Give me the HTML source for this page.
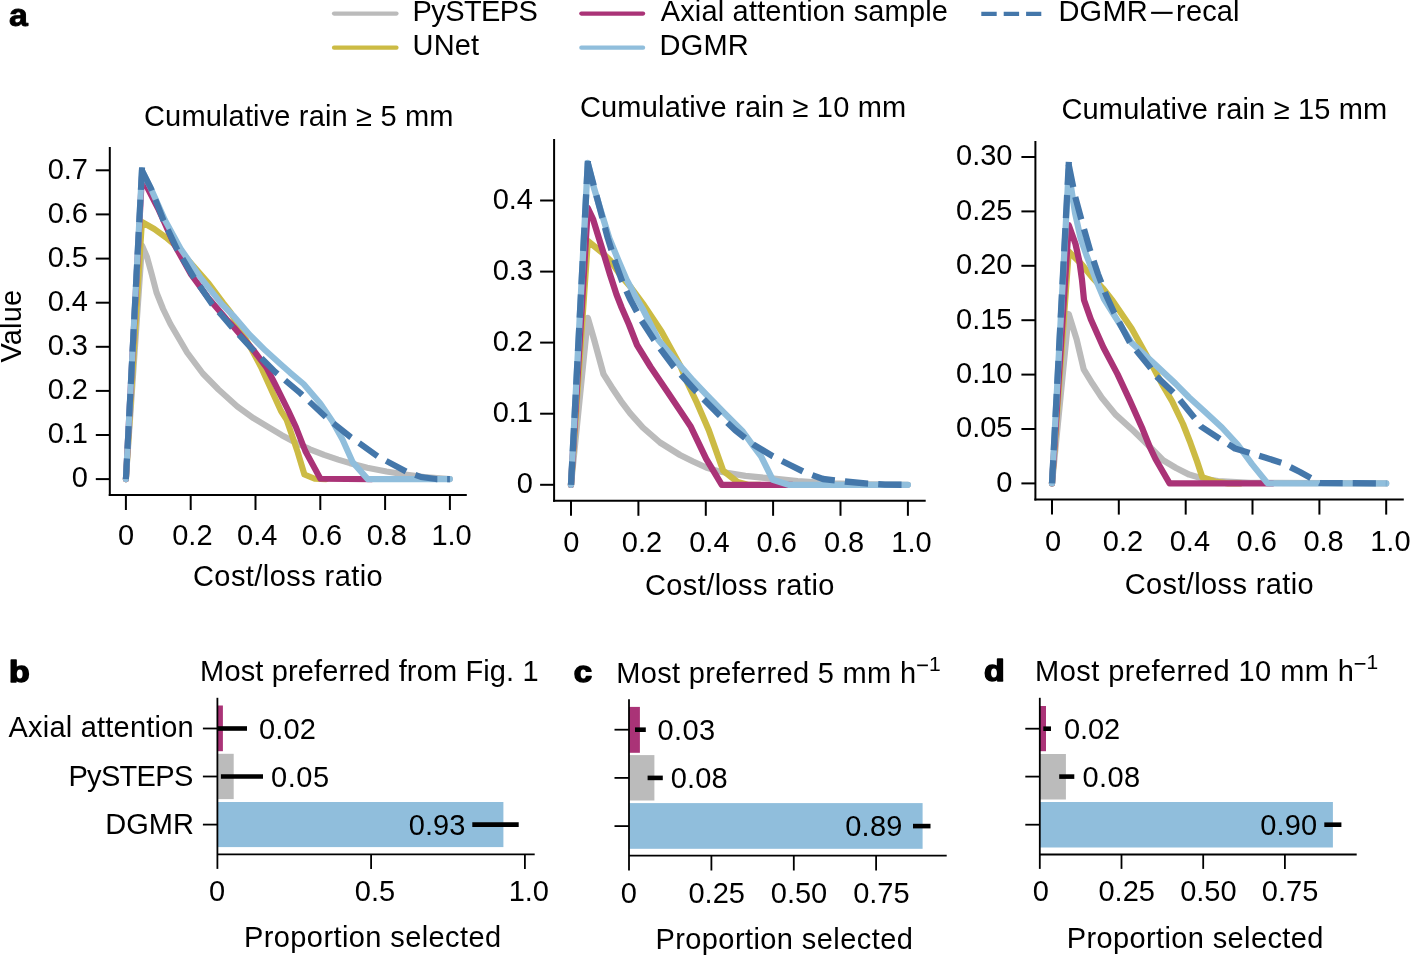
<!DOCTYPE html>
<html><head><meta charset="utf-8"><title>Figure</title>
<style>
html,body{margin:0;padding:0;background:#fff;}
svg{display:block;font-family:"Liberation Sans", sans-serif;will-change:transform;}
text{fill:#000;}
</style></head>
<body>
<svg width="1410" height="956" viewBox="0 0 1410 956">
<rect width="1410" height="956" fill="#fff"/>
<line x1="334" y1="13.6" x2="396.5" y2="13.6" stroke="#BBBBBB" stroke-width="4.2" stroke-linecap="round"/>
<line x1="334" y1="47.7" x2="396.5" y2="47.7" stroke="#CCBB44" stroke-width="4.2" stroke-linecap="round"/>
<line x1="581.3" y1="13.6" x2="643.1" y2="13.6" stroke="#AA3377" stroke-width="4.2" stroke-linecap="round"/>
<line x1="581.3" y1="47.7" x2="643.1" y2="47.7" stroke="#90BEDC" stroke-width="4.2" stroke-linecap="round"/>
<line x1="981.3" y1="13.8" x2="1041.3" y2="13.8" stroke="#4477AA" stroke-width="4.3" stroke-dasharray="15.4,7"/>
<rect x="1151.1" y="11.8" width="21.5" height="2.1" fill="#000"/>
<text x="0" y="0" font-size="32" font-weight="bold" stroke="#000" stroke-width="0.9" stroke-linejoin="round" transform="translate(9.10,26.40) scale(1.060,1)">a</text>
<text x="0" y="0" font-size="30" font-weight="bold" stroke="#000" stroke-width="1.5" stroke-linejoin="round" transform="translate(9.00,682.40) scale(1.130,1)">b</text>
<text x="0" y="0" font-size="30" font-weight="bold" stroke="#000" stroke-width="1.5" stroke-linejoin="round" transform="translate(573.80,682.40) scale(1.100,1)">c</text>
<text x="0" y="0" font-size="30" font-weight="bold" stroke="#000" stroke-width="1.5" stroke-linejoin="round" transform="translate(984.10,681.00) scale(1.130,1)">d</text>
<path d="M125.9,479.1 L142.0,245.5 L147.0,257.0 L151.4,273.0 L156.5,292.5 L163.1,309.0 L170.4,324.0 L179.2,339.0 L187.1,352.5 L202.8,373.5 L218.5,389.5 L237.3,406.5 L253.5,418.2 L267.6,426.7 L281.8,435.2 L295.9,442.7 L310.0,449.3 L324.1,454.9 L338.2,459.6 L350.0,463.2 L367.2,467.8 L386.5,471.5 L405.3,474.4 L424.1,477.0 L449.9,479.1" fill="none" stroke="#BBBBBB" stroke-width="6.1" stroke-linejoin="round" stroke-linecap="round"/>
<path d="M125.9,479.1 L141.9,222.0 L154.3,229.0 L166.0,237.5 L174.8,245.0 L181.0,252.0 L194.7,267.5 L208.9,283.8 L223.1,302.8 L230.2,311.8 L251.4,349.0 L261.0,367.0 L270.5,388.0 L281.0,411.0 L286.5,419.5 L291.2,433.0 L297.8,452.5 L304.4,474.5 L314.7,478.8 L326.0,479.1" fill="none" stroke="#CCBB44" stroke-width="6.1" stroke-linejoin="round" stroke-linecap="round"/>
<path d="M125.9,479.1 L141.9,177.0 L158.1,208.6 L174.3,244.5 L191.1,274.5 L208.9,298.7 L226.7,319.5 L234.1,327.5 L253.8,350.6 L266.8,368.0 L275.5,385.0 L288.0,410.0 L295.9,427.0 L305.3,451.0 L320.4,478.8 L372.0,479.1" fill="none" stroke="#AA3377" stroke-width="6.1" stroke-linejoin="round" stroke-linecap="round"/>
<path d="M125.9,479.1 L141.9,170.3 L150.9,188.5 L165.0,220.2 L180.6,248.7 L200.2,277.1 L221.5,303.9 L234.0,316.5 L249.8,334.9 L265.5,350.6 L281.2,364.7 L290.0,372.6 L303.6,384.0 L320.3,403.5 L332.5,421.5 L342.5,439.5 L352.6,462.1 L367.7,479.1 L449.9,479.1" fill="none" stroke="#90BEDC" stroke-width="6.1" stroke-linejoin="round" stroke-linecap="round"/>
<path d="M125.9,479.1 L142.07,167.00" fill="none" stroke="#4477AA" stroke-width="6.1" stroke-dasharray="22.60,9.80" stroke-dashoffset="2"/>
<path d="M141.9,170.3 L151.0,188.5 L163.4,220.2 L176.8,248.7 L193.6,277.1 L212.0,303.9 L222.0,315.6" fill="none" stroke="#4477AA" stroke-width="6.1" stroke-linejoin="round" stroke-linecap="butt" stroke-dasharray="22.60,9.80"/>
<path d="M222.00,315.60 L232.00,327.30 L250.00,346.70 L275.10,371.90 L300.20,393.00 L326.00,417.30 L350.50,437.00 L378.00,456.50 L406.20,471.50 L421.00,477.00 L436.00,479.10 L449.90,479.10" fill="none" stroke="#4477AA" stroke-width="6.1" stroke-linejoin="round" stroke-linecap="butt" stroke-dasharray="22.60,9.80" stroke-dashoffset="6.78"/>
<line x1="109.8" y1="147.0" x2="109.8" y2="496.0" stroke="#000" stroke-width="2" stroke-linecap="butt"/>
<line x1="108.8" y1="495.0" x2="466.8" y2="495.0" stroke="#000" stroke-width="2" stroke-linecap="butt"/>
<line x1="95.8" y1="479.1" x2="109.8" y2="479.1" stroke="#000" stroke-width="2" stroke-linecap="butt"/>
<text x="88.0" y="487.4" font-size="29" text-anchor="end">0</text>
<line x1="95.8" y1="435.0" x2="109.8" y2="435.0" stroke="#000" stroke-width="2" stroke-linecap="butt"/>
<text x="88.0" y="443.3" font-size="29" text-anchor="end">0.1</text>
<line x1="95.8" y1="390.9" x2="109.8" y2="390.9" stroke="#000" stroke-width="2" stroke-linecap="butt"/>
<text x="88.0" y="399.2" font-size="29" text-anchor="end">0.2</text>
<line x1="95.8" y1="346.8" x2="109.8" y2="346.8" stroke="#000" stroke-width="2" stroke-linecap="butt"/>
<text x="88.0" y="355.1" font-size="29" text-anchor="end">0.3</text>
<line x1="95.8" y1="302.7" x2="109.8" y2="302.7" stroke="#000" stroke-width="2" stroke-linecap="butt"/>
<text x="88.0" y="311.0" font-size="29" text-anchor="end">0.4</text>
<line x1="95.8" y1="258.6" x2="109.8" y2="258.6" stroke="#000" stroke-width="2" stroke-linecap="butt"/>
<text x="88.0" y="266.9" font-size="29" text-anchor="end">0.5</text>
<line x1="95.8" y1="214.4" x2="109.8" y2="214.4" stroke="#000" stroke-width="2" stroke-linecap="butt"/>
<text x="88.0" y="222.7" font-size="29" text-anchor="end">0.6</text>
<line x1="95.8" y1="170.3" x2="109.8" y2="170.3" stroke="#000" stroke-width="2" stroke-linecap="butt"/>
<text x="88.0" y="178.6" font-size="29" text-anchor="end">0.7</text>
<line x1="125.9" y1="495.0" x2="125.9" y2="510.0" stroke="#000" stroke-width="2" stroke-linecap="butt"/>
<text x="126.0" y="545.1" font-size="29" text-anchor="middle">0</text>
<line x1="190.7" y1="495.0" x2="190.7" y2="510.0" stroke="#000" stroke-width="2" stroke-linecap="butt"/>
<text x="192.4" y="545.1" font-size="29" text-anchor="middle">0.2</text>
<line x1="255.5" y1="495.0" x2="255.5" y2="510.0" stroke="#000" stroke-width="2" stroke-linecap="butt"/>
<text x="257.2" y="545.1" font-size="29" text-anchor="middle">0.4</text>
<line x1="320.3" y1="495.0" x2="320.3" y2="510.0" stroke="#000" stroke-width="2" stroke-linecap="butt"/>
<text x="322.0" y="545.1" font-size="29" text-anchor="middle">0.6</text>
<line x1="385.1" y1="495.0" x2="385.1" y2="510.0" stroke="#000" stroke-width="2" stroke-linecap="butt"/>
<text x="386.8" y="545.1" font-size="29" text-anchor="middle">0.8</text>
<line x1="449.9" y1="495.0" x2="449.9" y2="510.0" stroke="#000" stroke-width="2" stroke-linecap="butt"/>
<text x="451.6" y="545.1" font-size="29" text-anchor="middle">1.0</text>
<path d="M571.0,484.8 L587.8,318.0 L594.1,339.6 L603.5,374.1 L611.4,386.7 L620.8,400.8 L630.2,413.4 L642.8,427.5 L660.0,442.5 L680.0,455.0 L693.1,461.5 L706.2,467.5 L719.2,471.5 L745.4,475.9 L771.5,478.5 L797.7,481.2 L830.0,483.5 L870.0,484.5 L907.9,484.8" fill="none" stroke="#BBBBBB" stroke-width="6.3" stroke-linejoin="round" stroke-linecap="round"/>
<path d="M571.0,484.8 L587.8,241.0 L601.4,252.0 L610.8,261.0 L620.2,275.0 L631.0,287.5 L642.8,303.5 L661.6,331.8 L680.4,366.0 L688.0,384.0 L697.0,403.0 L708.8,430.2 L723.2,470.7 L737.5,482.0 L748.0,484.8 L760.0,484.8" fill="none" stroke="#CCBB44" stroke-width="6.3" stroke-linejoin="round" stroke-linecap="round"/>
<path d="M571.0,484.8 L587.8,208.0 L593.0,219.0 L597.6,234.0 L603.8,254.0 L610.0,274.5 L616.5,294.5 L621.8,308.0 L629.0,324.5 L637.0,345.0 L650.6,367.0 L667.9,392.5 L680.0,410.5 L690.5,426.2 L706.2,458.9 L721.8,484.8 L792.0,484.8" fill="none" stroke="#AA3377" stroke-width="6.3" stroke-linejoin="round" stroke-linecap="round"/>
<path d="M571.0,484.8 L587.8,163.0 L593.4,186.0 L600.6,210.0 L609.2,238.0 L618.6,261.0 L626.5,279.5 L635.9,297.0 L642.8,309.0 L658.5,340.0 L677.3,362.5 L693.0,380.5 L706.2,394.5 L724.5,413.2 L742.8,431.5 L753.2,445.8 L761.1,456.3 L772.8,479.8 L788.5,484.8 L907.9,484.8" fill="none" stroke="#90BEDC" stroke-width="6.3" stroke-linejoin="round" stroke-linecap="round"/>
<path d="M571.0,484.8 L587.97,159.70" fill="none" stroke="#4477AA" stroke-width="6.3" stroke-dasharray="23.33,10.12" stroke-dashoffset="0"/>
<path d="M587.8,163.0 L593.5,184.5 L599.8,208.1 L607.7,237.9 L615.5,263.0 L622.0,281.0 L630.0,299.0 L641.2,320.0 L656.0,343.0 L674.0,367.0 L696.0,391.4 L719.2,415.0 L735.0,430.0 L753.2,444.5 L772.8,456.3 L790.0,465.0 L805.0,472.5 L823.0,479.0 L845.0,481.5 L868.0,483.6 L885.0,484.6 L907.9,484.8" fill="none" stroke="#4477AA" stroke-width="6.3" stroke-linejoin="round" stroke-linecap="butt" stroke-dasharray="23.33,10.12"/>
<line x1="554.1" y1="139.0" x2="554.1" y2="501.8" stroke="#000" stroke-width="2" stroke-linecap="butt"/>
<line x1="553.1" y1="500.8" x2="925.7" y2="500.8" stroke="#000" stroke-width="2" stroke-linecap="butt"/>
<line x1="540.1" y1="484.8" x2="554.1" y2="484.8" stroke="#000" stroke-width="2" stroke-linecap="butt"/>
<text x="533.0" y="493.1" font-size="29" text-anchor="end">0</text>
<line x1="540.1" y1="413.7" x2="554.1" y2="413.7" stroke="#000" stroke-width="2" stroke-linecap="butt"/>
<text x="533.0" y="422.0" font-size="29" text-anchor="end">0.1</text>
<line x1="540.1" y1="342.6" x2="554.1" y2="342.6" stroke="#000" stroke-width="2" stroke-linecap="butt"/>
<text x="533.0" y="350.9" font-size="29" text-anchor="end">0.2</text>
<line x1="540.1" y1="271.6" x2="554.1" y2="271.6" stroke="#000" stroke-width="2" stroke-linecap="butt"/>
<text x="533.0" y="279.9" font-size="29" text-anchor="end">0.3</text>
<line x1="540.1" y1="200.5" x2="554.1" y2="200.5" stroke="#000" stroke-width="2" stroke-linecap="butt"/>
<text x="533.0" y="208.8" font-size="29" text-anchor="end">0.4</text>
<line x1="571.0" y1="500.8" x2="571.0" y2="515.8" stroke="#000" stroke-width="2" stroke-linecap="butt"/>
<text x="571.2" y="552.0" font-size="29" text-anchor="middle">0</text>
<line x1="638.4" y1="500.8" x2="638.4" y2="515.8" stroke="#000" stroke-width="2" stroke-linecap="butt"/>
<text x="642.0" y="552.0" font-size="29" text-anchor="middle">0.2</text>
<line x1="705.8" y1="500.8" x2="705.8" y2="515.8" stroke="#000" stroke-width="2" stroke-linecap="butt"/>
<text x="709.4" y="552.0" font-size="29" text-anchor="middle">0.4</text>
<line x1="773.1" y1="500.8" x2="773.1" y2="515.8" stroke="#000" stroke-width="2" stroke-linecap="butt"/>
<text x="776.7" y="552.0" font-size="29" text-anchor="middle">0.6</text>
<line x1="840.5" y1="500.8" x2="840.5" y2="515.8" stroke="#000" stroke-width="2" stroke-linecap="butt"/>
<text x="844.1" y="552.0" font-size="29" text-anchor="middle">0.8</text>
<line x1="907.9" y1="500.8" x2="907.9" y2="515.8" stroke="#000" stroke-width="2" stroke-linecap="butt"/>
<text x="911.5" y="552.0" font-size="29" text-anchor="middle">1.0</text>
<path d="M1052.0,483.4 L1068.7,314.0 L1076.7,339.6 L1083.7,369.4 L1092.4,383.6 L1101.8,397.7 L1115.9,414.9 L1131.6,429.1 L1150.0,447.0 L1163.1,460.2 L1176.1,468.0 L1189.2,474.6 L1202.3,478.5 L1218.0,481.1 L1250.0,482.8 L1386.2,483.4" fill="none" stroke="#BBBBBB" stroke-width="6.25" stroke-linejoin="round" stroke-linecap="round"/>
<path d="M1052.0,483.4 L1068.7,251.5 L1081.4,264.0 L1092.4,277.5 L1103.4,289.0 L1112.8,301.0 L1131.6,328.6 L1153.0,367.0 L1163.1,386.0 L1172.2,401.5 L1183.0,424.0 L1190.5,443.2 L1197.1,461.5 L1202.3,477.2 L1215.0,481.5 L1228.0,483.4 L1240.0,483.4" fill="none" stroke="#CCBB44" stroke-width="6.25" stroke-linejoin="round" stroke-linecap="round"/>
<path d="M1052.0,483.4 L1068.7,225.0 L1075.5,244.0 L1079.5,262.0 L1082.0,280.0 L1084.0,300.0 L1090.8,319.2 L1103.4,347.5 L1117.5,374.1 L1130.0,400.8 L1142.6,429.1 L1150.0,447.5 L1155.5,459.0 L1169.6,483.4 L1272.0,483.4" fill="none" stroke="#AA3377" stroke-width="6.25" stroke-linejoin="round" stroke-linecap="round"/>
<path d="M1052.0,483.4 L1068.7,170.0 L1071.5,190.0 L1075.0,212.8 L1080.5,237.9 L1087.0,256.7 L1095.5,278.7 L1104.0,299.1 L1112.8,313.0 L1131.6,342.8 L1152.0,361.6 L1175.5,383.6 L1189.2,397.5 L1204.9,411.8 L1221.9,427.5 L1237.6,444.5 L1252.0,464.1 L1267.6,483.4 L1386.2,483.4" fill="none" stroke="#90BEDC" stroke-width="6.25" stroke-linejoin="round" stroke-linecap="round"/>
<path d="M1052.0,483.4 L1068.87,161.20" fill="none" stroke="#4477AA" stroke-width="6.25" stroke-dasharray="23.16,10.04" stroke-dashoffset="0"/>
<path d="M1068.7,164.5 L1075.0,196.0 L1082.0,222.0 L1090.0,250.0 L1098.0,274.0 L1106.0,295.0 L1114.3,313.0 L1130.0,342.8 L1150.4,367.9 L1156.5,376.5 L1175.0,394.0 L1195.0,418.5 L1201.0,426.5 L1220.6,439.3 L1235.0,448.5 L1250.0,453.0 L1265.0,457.5 L1282.0,463.0 L1300.0,472.0 L1320.0,483.0 L1386.2,483.4" fill="none" stroke="#4477AA" stroke-width="6.25" stroke-linejoin="round" stroke-linecap="butt" stroke-dasharray="23.16,10.04"/>
<line x1="1035.4" y1="141.0" x2="1035.4" y2="500.6" stroke="#000" stroke-width="2" stroke-linecap="butt"/>
<line x1="1034.4" y1="499.6" x2="1403.8" y2="499.6" stroke="#000" stroke-width="2" stroke-linecap="butt"/>
<line x1="1021.4" y1="483.4" x2="1035.4" y2="483.4" stroke="#000" stroke-width="2" stroke-linecap="butt"/>
<text x="1012.5" y="491.7" font-size="29" text-anchor="end">0</text>
<line x1="1021.4" y1="429.0" x2="1035.4" y2="429.0" stroke="#000" stroke-width="2" stroke-linecap="butt"/>
<text x="1012.5" y="437.3" font-size="29" text-anchor="end">0.05</text>
<line x1="1021.4" y1="374.6" x2="1035.4" y2="374.6" stroke="#000" stroke-width="2" stroke-linecap="butt"/>
<text x="1012.5" y="382.9" font-size="29" text-anchor="end">0.10</text>
<line x1="1021.4" y1="320.2" x2="1035.4" y2="320.2" stroke="#000" stroke-width="2" stroke-linecap="butt"/>
<text x="1012.5" y="328.5" font-size="29" text-anchor="end">0.15</text>
<line x1="1021.4" y1="265.8" x2="1035.4" y2="265.8" stroke="#000" stroke-width="2" stroke-linecap="butt"/>
<text x="1012.5" y="274.1" font-size="29" text-anchor="end">0.20</text>
<line x1="1021.4" y1="211.4" x2="1035.4" y2="211.4" stroke="#000" stroke-width="2" stroke-linecap="butt"/>
<text x="1012.5" y="219.7" font-size="29" text-anchor="end">0.25</text>
<line x1="1021.4" y1="157.0" x2="1035.4" y2="157.0" stroke="#000" stroke-width="2" stroke-linecap="butt"/>
<text x="1012.5" y="165.3" font-size="29" text-anchor="end">0.30</text>
<line x1="1052.0" y1="499.6" x2="1052.0" y2="514.6" stroke="#000" stroke-width="2" stroke-linecap="butt"/>
<text x="1053.1" y="551.1" font-size="29" text-anchor="middle">0</text>
<line x1="1118.8" y1="499.6" x2="1118.8" y2="514.6" stroke="#000" stroke-width="2" stroke-linecap="butt"/>
<text x="1123.0" y="551.1" font-size="29" text-anchor="middle">0.2</text>
<line x1="1185.7" y1="499.6" x2="1185.7" y2="514.6" stroke="#000" stroke-width="2" stroke-linecap="butt"/>
<text x="1189.9" y="551.1" font-size="29" text-anchor="middle">0.4</text>
<line x1="1252.5" y1="499.6" x2="1252.5" y2="514.6" stroke="#000" stroke-width="2" stroke-linecap="butt"/>
<text x="1256.7" y="551.1" font-size="29" text-anchor="middle">0.6</text>
<line x1="1319.4" y1="499.6" x2="1319.4" y2="514.6" stroke="#000" stroke-width="2" stroke-linecap="butt"/>
<text x="1323.6" y="551.1" font-size="29" text-anchor="middle">0.8</text>
<line x1="1386.2" y1="499.6" x2="1386.2" y2="514.6" stroke="#000" stroke-width="2" stroke-linecap="butt"/>
<text x="1390.4" y="551.1" font-size="29" text-anchor="middle">1.0</text>
<text x="0" y="0" font-size="29" text-anchor="middle" letter-spacing="0.2" transform="translate(21.3,326.1) rotate(-90)">Value</text>
<rect x="217.4" y="705.5" width="5.5" height="45.7" fill="#AA3377"/>
<rect x="217.4" y="753.8" width="16.3" height="45.3" fill="#BBBBBB"/>
<rect x="217.4" y="802.0" width="286.0" height="45.1" fill="#90BEDC"/>
<line x1="217.4" y1="697.8" x2="217.4" y2="868.9" stroke="#000" stroke-width="1.8" stroke-linecap="butt"/>
<line x1="217.4" y1="854.3" x2="534.7" y2="854.3" stroke="#000" stroke-width="1.8" stroke-linecap="butt"/>
<line x1="202.9" y1="728.5" x2="217.4" y2="728.5" stroke="#000" stroke-width="1.8" stroke-linecap="butt"/>
<line x1="202.9" y1="776.5" x2="217.4" y2="776.5" stroke="#000" stroke-width="1.8" stroke-linecap="butt"/>
<line x1="202.9" y1="824.6" x2="217.4" y2="824.6" stroke="#000" stroke-width="1.8" stroke-linecap="butt"/>
<line x1="217.4" y1="728.5" x2="247.0" y2="728.5" stroke="#000" stroke-width="4.6" stroke-linecap="butt"/>
<line x1="220.9" y1="776.5" x2="263.0" y2="776.5" stroke="#000" stroke-width="4.6" stroke-linecap="butt"/>
<line x1="472.3" y1="824.6" x2="518.7" y2="824.6" stroke="#000" stroke-width="4.6" stroke-linecap="butt"/>
<text x="217.0" y="901.1" font-size="29" text-anchor="middle">0</text>
<line x1="371.1" y1="854.3" x2="371.1" y2="868.9" stroke="#000" stroke-width="1.8" stroke-linecap="butt"/>
<text x="375.0" y="901.1" font-size="29" text-anchor="middle">0.5</text>
<line x1="524.9" y1="854.3" x2="524.9" y2="868.9" stroke="#000" stroke-width="1.8" stroke-linecap="butt"/>
<text x="528.8" y="901.1" font-size="29" text-anchor="middle">1.0</text>
<rect x="629.0" y="706.9" width="10.9" height="45.9" fill="#AA3377"/>
<rect x="629.0" y="755.1" width="25.4" height="45.4" fill="#BBBBBB"/>
<rect x="629.0" y="803.1" width="293.6" height="45.7" fill="#90BEDC"/>
<line x1="629.0" y1="699.2" x2="629.0" y2="870.5" stroke="#000" stroke-width="1.8" stroke-linecap="butt"/>
<line x1="629.0" y1="855.7" x2="946.7" y2="855.7" stroke="#000" stroke-width="1.8" stroke-linecap="butt"/>
<line x1="614.5" y1="729.7" x2="629.0" y2="729.7" stroke="#000" stroke-width="1.8" stroke-linecap="butt"/>
<line x1="614.5" y1="777.9" x2="629.0" y2="777.9" stroke="#000" stroke-width="1.8" stroke-linecap="butt"/>
<line x1="614.5" y1="826.1" x2="629.0" y2="826.1" stroke="#000" stroke-width="1.8" stroke-linecap="butt"/>
<line x1="635.0" y1="729.7" x2="645.8" y2="729.7" stroke="#000" stroke-width="4.6" stroke-linecap="butt"/>
<line x1="647.6" y1="777.9" x2="662.8" y2="777.9" stroke="#000" stroke-width="4.6" stroke-linecap="butt"/>
<line x1="913.0" y1="826.1" x2="930.5" y2="826.1" stroke="#000" stroke-width="4.6" stroke-linecap="butt"/>
<text x="628.7" y="902.7" font-size="29" text-anchor="middle">0</text>
<line x1="711.4" y1="855.7" x2="711.4" y2="870.5" stroke="#000" stroke-width="1.8" stroke-linecap="butt"/>
<text x="716.7" y="902.7" font-size="29" text-anchor="middle">0.25</text>
<line x1="793.8" y1="855.7" x2="793.8" y2="870.5" stroke="#000" stroke-width="1.8" stroke-linecap="butt"/>
<text x="799.0" y="902.7" font-size="29" text-anchor="middle">0.50</text>
<line x1="876.1" y1="855.7" x2="876.1" y2="870.5" stroke="#000" stroke-width="1.8" stroke-linecap="butt"/>
<text x="881.4" y="902.7" font-size="29" text-anchor="middle">0.75</text>
<rect x="1039.8" y="706.0" width="6.2" height="45.2" fill="#AA3377"/>
<rect x="1039.8" y="754.0" width="26.1" height="45.5" fill="#BBBBBB"/>
<rect x="1039.8" y="802.0" width="293.1" height="45.5" fill="#90BEDC"/>
<line x1="1039.8" y1="697.8" x2="1039.8" y2="868.9" stroke="#000" stroke-width="1.8" stroke-linecap="butt"/>
<line x1="1039.8" y1="854.5" x2="1356.7" y2="854.5" stroke="#000" stroke-width="1.8" stroke-linecap="butt"/>
<line x1="1025.3" y1="728.7" x2="1039.8" y2="728.7" stroke="#000" stroke-width="1.8" stroke-linecap="butt"/>
<line x1="1025.3" y1="776.6" x2="1039.8" y2="776.6" stroke="#000" stroke-width="1.8" stroke-linecap="butt"/>
<line x1="1025.3" y1="824.7" x2="1039.8" y2="824.7" stroke="#000" stroke-width="1.8" stroke-linecap="butt"/>
<line x1="1043.3" y1="728.7" x2="1051.0" y2="728.7" stroke="#000" stroke-width="4.6" stroke-linecap="butt"/>
<line x1="1059.2" y1="776.6" x2="1074.3" y2="776.6" stroke="#000" stroke-width="4.6" stroke-linecap="butt"/>
<line x1="1324.3" y1="824.7" x2="1341.4" y2="824.7" stroke="#000" stroke-width="4.6" stroke-linecap="butt"/>
<text x="1040.9" y="901.1" font-size="29" text-anchor="middle">0</text>
<line x1="1121.5" y1="854.5" x2="1121.5" y2="868.9" stroke="#000" stroke-width="1.8" stroke-linecap="butt"/>
<text x="1126.7" y="901.1" font-size="29" text-anchor="middle">0.25</text>
<line x1="1203.2" y1="854.5" x2="1203.2" y2="868.9" stroke="#000" stroke-width="1.8" stroke-linecap="butt"/>
<text x="1208.4" y="901.1" font-size="29" text-anchor="middle">0.50</text>
<line x1="1284.9" y1="854.5" x2="1284.9" y2="868.9" stroke="#000" stroke-width="1.8" stroke-linecap="butt"/>
<text x="1290.1" y="901.1" font-size="29" text-anchor="middle">0.75</text>
<rect x="917.2" y="664.5" width="10.7" height="1.7" fill="#000"/>
<rect x="1354.7" y="663.0" width="10.7" height="1.7" fill="#000"/>
<text x="412.5" y="21.3" font-size="29" letter-spacing="-0.58">PySTEPS</text>
<text x="412.5" y="54.8" font-size="29" letter-spacing="0.20">UNet</text>
<text x="660.7" y="21.3" font-size="29" letter-spacing="0.17">Axial attention sample</text>
<text x="659.6" y="54.8" font-size="29" letter-spacing="0.20">DGMR</text>
<text x="1058.4" y="21.0" font-size="29" letter-spacing="0.27">DGMR</text>
<text x="1176.1" y="21.0" font-size="29" letter-spacing="0.15">recal</text>
<text x="193.0" y="585.6" font-size="29" letter-spacing="0.43">Cost/loss ratio</text>
<text x="144.0" y="125.7" font-size="29" letter-spacing="0.16">Cumulative rain ≥ 5 mm</text>
<text x="644.9" y="595.1" font-size="29" letter-spacing="0.41">Cost/loss ratio</text>
<text x="579.9" y="116.7" font-size="29" letter-spacing="0.19">Cumulative rain ≥ 10 mm</text>
<text x="1124.7" y="593.7" font-size="29" letter-spacing="0.38">Cost/loss ratio</text>
<text x="1061.4" y="118.5" font-size="29" letter-spacing="0.17">Cumulative rain ≥ 15 mm</text>
<text x="259.1" y="738.8" font-size="29" letter-spacing="0.13">0.02</text>
<text x="271.0" y="786.8" font-size="29" letter-spacing="0.53">0.05</text>
<text x="408.7" y="834.9" font-size="29" letter-spacing="0.10">0.93</text>
<text x="244.0" y="947.1" font-size="29" letter-spacing="0.40">Proportion selected</text>
<text x="657.5" y="740.0" font-size="29" letter-spacing="0.40">0.03</text>
<text x="670.7" y="788.2" font-size="29" letter-spacing="0.20">0.08</text>
<text x="845.2" y="836.4" font-size="29" letter-spacing="0.27">0.89</text>
<text x="655.4" y="948.6" font-size="29" letter-spacing="0.42">Proportion selected</text>
<text x="1063.9" y="739.0" font-size="29" letter-spacing="-0.03">0.02</text>
<text x="1082.4" y="786.9" font-size="29" letter-spacing="0.40">0.08</text>
<text x="1260.2" y="835.0" font-size="29" letter-spacing="0.13">0.90</text>
<text x="1066.7" y="947.9" font-size="29" letter-spacing="0.38">Proportion selected</text>
<text x="200.1" y="681.2" font-size="29" letter-spacing="0.13">Most preferred from Fig. 1</text>
<text x="616.2" y="682.7" font-size="29" letter-spacing="0.33">Most preferred 5 mm h</text>
<text x="1035.1" y="681.2" font-size="29" letter-spacing="0.45">Most preferred 10 mm h</text>
<text x="928.9" y="670.6" font-size="21">1</text>
<text x="1366.4" y="669.1" font-size="21">1</text>
<text x="8.5" y="737.4" font-size="29" letter-spacing="0.21">Axial attention</text>
<text x="68.4" y="786.1" font-size="29" letter-spacing="-0.67">PySTEPS</text>
<text x="105.3" y="834.0" font-size="29" letter-spacing="0.03">DGMR</text>
</svg>
</body></html>
